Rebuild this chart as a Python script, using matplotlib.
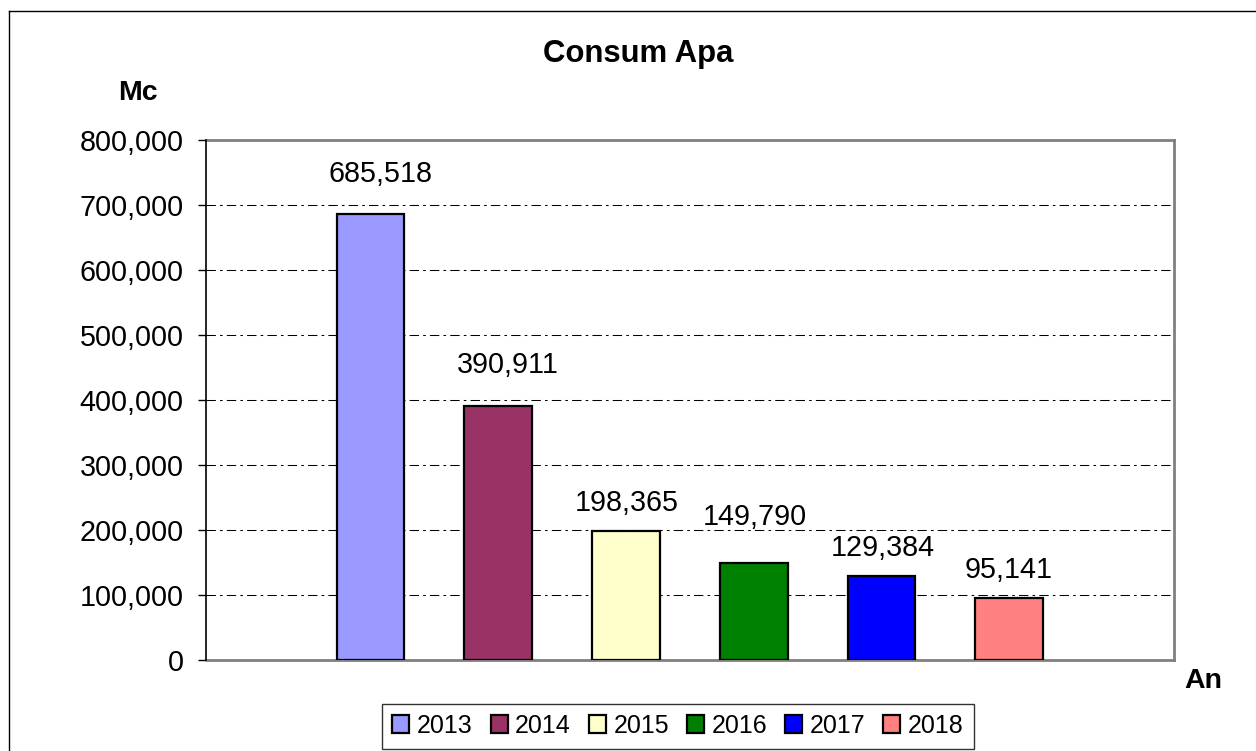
import matplotlib
matplotlib.use("Agg")
import matplotlib.pyplot as plt
from matplotlib.lines import Line2D
from matplotlib.ticker import FuncFormatter, MultipleLocator

plt.rcParams['font.family'] = ['Liberation Sans', 'DejaVu Sans']

# ---- data ----
years = ['2013', '2014', '2015', '2016', '2017', '2018']
consum = [685518, 390911, 198365, 149790, 129384, 95141]
colors = ['#9999FF', '#993366', '#FFFFCC', '#008000', '#0000FF', '#FF8080']
title = 'Consum Apa'
y_label = 'Mc'
x_label = 'An'

# label offsets (pixels) relative to bar centre / bar top, as in the original
label_dx = [10.5, 9.5, 0.3, 1.5, 1.3, -0.4]
label_dy = [32.6, 32.6, 20.0, 38.0, 20.0, 20.0]

W, H, DPI = 1256, 751, 100
fig = plt.figure(figsize=(W / DPI, H / DPI), dpi=DPI)
px = 72.0 / DPI  # points per pixel

ax_left, ax_right, ax_top, ax_bottom = 205.7, 1174.0, 140.0, 660.0
ax = fig.add_axes([ax_left / W, 1 - ax_bottom / H,
                   (ax_right - ax_left) / W, (ax_bottom - ax_top) / H])

xs = list(range(len(years)))
bars = ax.bar(xs, consum, width=0.53, color=colors, edgecolor='black',
              linewidth=1.6, zorder=3)

ax.set_xlim(-1.29, 6.29)
ax.set_ylim(0, 800000)
ax.yaxis.set_major_locator(MultipleLocator(100000))
ax.yaxis.set_major_formatter(FuncFormatter(lambda v, p: f'{v:,.0f}'))
ax.set_xticks([])

ax.tick_params(axis='y', direction='out', length=8 * px, width=1.0,
               color='black', labelsize=20.7, pad=10.0)

ax.yaxis.grid(True, color='black', linewidth=0.75,
              linestyle=(0, (9, 4, 2.5, 4)), zorder=1)
ax.set_axisbelow(True)

for side in ['top', 'right', 'bottom']:
    ax.spines[side].set_color('#808080')
    ax.spines[side].set_linewidth(2.0)
ax.spines['left'].set_color('black')
ax.spines['left'].set_linewidth(1.2)
ax.spines['left'].set_zorder(4)

for i, (x, v) in enumerate(zip(xs, consum)):
    ax.annotate(f'{v:,}', xy=(x, v), xytext=(label_dx[i] * px, label_dy[i] * px),
                textcoords='offset points', ha='center', va='baseline',
                fontsize=20.7, color='black')

# titles
fig.text(638 / W, 1 - 62 / H, title, ha='center', va='baseline',
         fontsize=22.4, fontweight='bold')
fig.text(138 / W, 1 - 100 / H, y_label, ha='center', va='baseline',
         fontsize=20.5, fontweight='bold')
fig.text(1203 / W, 1 - 688 / H, x_label, ha='center', va='baseline',
         fontsize=20.5, fontweight='bold')

# legend
leg = fig.legend(bars, years, loc='center',
                 bbox_to_anchor=(678 / W, 1 - 726 / H), ncol=6,
                 fontsize=18, frameon=True, fancybox=False, shadow=False,
                 handlelength=0.68, handleheight=0.72, handletextpad=0.3,
                 columnspacing=0.72, borderpad=0.42, borderaxespad=0)
leg.get_frame().set_edgecolor('black')
leg.get_frame().set_linewidth(1.0)

# outer chart border (left and top visible)
fig.add_artist(Line2D([8.5 / W, 8.5 / W], [0, 1 - 10.5 / H],
                      transform=fig.transFigure, color='black', linewidth=1.0))
fig.add_artist(Line2D([8.5 / W, 1.0], [1 - 10.5 / H, 1 - 10.5 / H],
                      transform=fig.transFigure, color='black', linewidth=1.0))

fig.savefig('out.png', dpi=DPI, facecolor='white')
